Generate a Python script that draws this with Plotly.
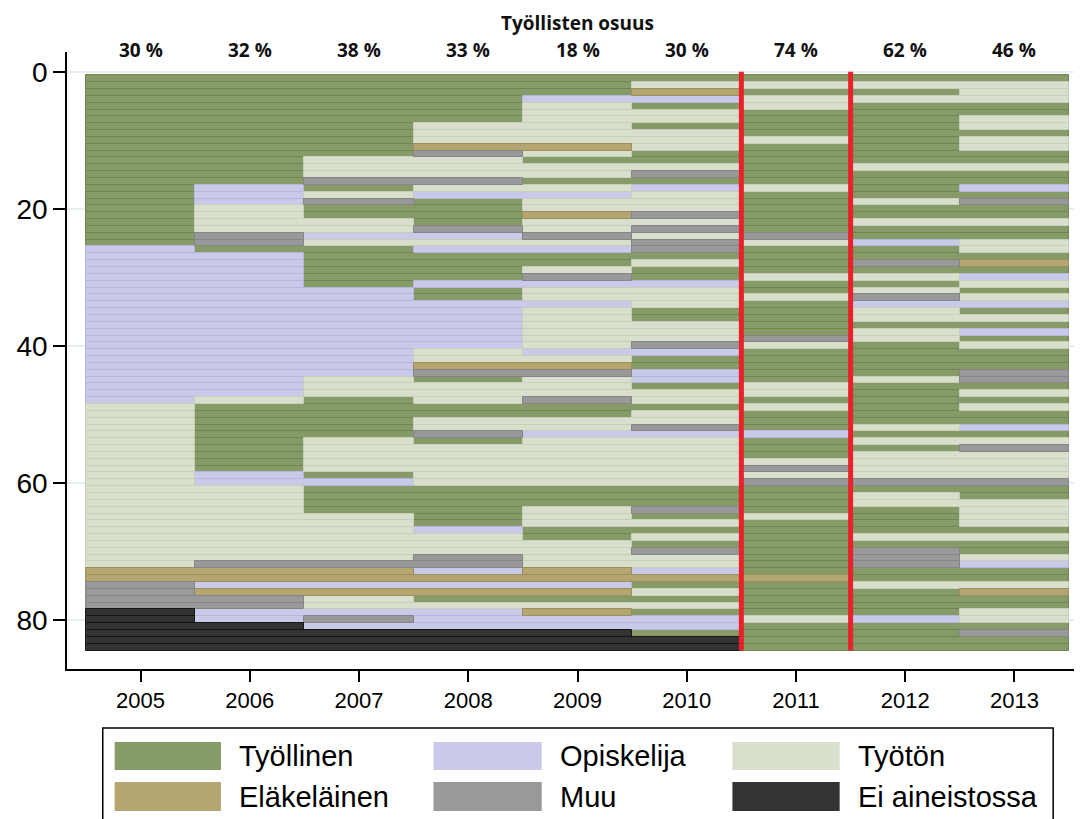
import plotly.graph_objects as go

# ---------------- data ----------------
years = [2005, 2006, 2007, 2008, 2009, 2010, 2011, 2012, 2013]
state_codes = ["T", "O", "U", "E", "M", "X"]
state_names = ["Työllinen", "Opiskelija", "Työtön", "Eläkeläinen", "Muu", "Ei aineistossa"]
share_labels = ["30 %", "32 %", "38 %", "33 %", "18 %", "30 %", "74 %", "62 %", "46 %"]
y_ticks = [0, 20, 40, 60, 80]

# one string per year, one character per person (rows top -> bottom, blocks of 12)
s2005 = "TTTTTTTTTTTT TTTTTTTTTTTT TOOOOOOOOOOO OOOOOOOOOOOO UUUUUUUUUUUU UUUUUUUUUUUU EEMMMMXXXXXX"
s2006 = "TTTTTTTTTTTT TTTTOOOUUUUM MTOOOOOOOOOO OOOOOOOOOOOU TTTTTTTTTTOO UUUUUUUUUUUM EEOEMMOOXXXX"
s2007 = "TTTTTTTTTTTT UUUMTUMTTUUO UTTTTTTOOOOO OOOOOOOOUUUT TTTTTUUUUUTO TTTTUUUUUUUM EEOEUUOMOXXX"
s2008 = "TTTTTTTUUUEM UUUMUOTTTTMO UOTTTTOTTOOO OOOOUUEMTUUU TTUUMTUUUUUU TTTTTTOUUUMM OEOETUOOOXXX"
s2009 = "TTTOUUUUUUEU TUUTUOUUEUUM UOTTUMOUUOUU UUUUOUEMUUUM TTUUOUUUUUUU TTTUUUTTUUUU EEOETUEOOXXX"
s2010 = "TUEOTUUTUUUT TUMTOUUUMUMU MMTUTTOUUUTT UUUMOTTOOTUU TUUMOUUUUUUU TTTMTUTUTMUU OETUTUTOOTXX"
s2011 = "TUTUUTTTTUTT TTTTUTTTTTTM UTTTTUTTUTTT TTMUTTTTTUUT UTTTOTTTUMUM TTTTUTTTTTTT TETTTTTUTTTT"
s2012 = "TUTUTTTTTTTT TUTTTTUTTUTT OTTMTUTUMOUU TUUTTTTTUTTT TTTUTUTUUUUM TUUTTTTUTMMM TTUTTTTOTTTT"
s2013 = "TUUUTTUUTUUT TUTTOTMTTUTT UUTETOUTUOTU TOTUTTTMMTUT UTTOTUMUUUUM TTUUUUTUTTUO TTUETTUUTMTT"

# ---------------- styling ----------------
fill = {"T": "#869b67", "O": "#c9c9e9", "U": "#d8e0cd", "E": "#b4a571",
        "M": "#999999", "X": "#333333"}
edge = {"T": "#6d8650", "O": "#b6b6dc", "U": "#c6d0b9", "E": "#9e8e5b",
        "M": "#858585", "X": "#161616"}
FONT = "Liberation Sans, Arial, sans-serif"
HEAD_FONT = "Open Sans, sans-serif"
W, H = 1082, 819
PAGE_OFF = 8                      # page body offset of the rendered figure
L, R, T, B = 52, 8, 44, 158
PW, PH = W - L - R, H - T - B


def px_x(px):
    """screen pixel x -> paper x"""
    return (px - PAGE_OFF - L) / PW


def px_y(py):
    """screen pixel y -> paper y"""
    return (H - B - (py - PAGE_OFF)) / PH


columns = [s.replace(" ", "") for s in (s2005, s2006, s2007, s2008, s2009,
                                         s2010, s2011, s2012, s2013)]
n_people = len(columns[0])

# group consecutive identical states into spells
spells = {c: {"y": [], "base": [], "len": []} for c in state_codes}
for i in range(n_people):
    j = 0
    while j < len(years):
        c = columns[j][i]
        k = j
        while k + 1 < len(years) and columns[k + 1][i] == c:
            k += 1
        spells[c]["y"].append(i + 1)
        spells[c]["base"].append(years[j] - 0.5)
        spells[c]["len"].append(k - j + 1)
        j = k + 1

fig = go.Figure()
for c, name in zip(state_codes, state_names):
    d = spells[c]
    fig.add_trace(go.Bar(
        orientation="h", y=d["y"], x=d["len"], base=d["base"], width=1,
        name=name, showlegend=False,
        marker=dict(color=fill[c], line=dict(color=edge[c], width=1)),
    ))

# red separators around 2011
for xv in (years[5] + 0.5, years[6] + 0.5):
    fig.add_shape(type="line", xref="x", yref="y", x0=xv, x1=xv, y0=0,
                  y1=n_people + 0.5, line=dict(color="#e8222a", width=5),
                  layer="above")

# header texts
fig.add_annotation(xref="x", yref="paper", x=years[4], y=px_y(23),
                   text="<b>Työllisten osuus</b>", showarrow=False,
                   font=dict(family=HEAD_FONT, size=19, color="#111"),
                   yanchor="middle")
for yr, lab in zip(years, share_labels):
    fig.add_annotation(xref="x", yref="paper", x=yr, y=px_y(50),
                       text="<b>" + lab + "</b>", showarrow=False,
                       font=dict(family=HEAD_FONT, size=19, color="#111"),
                       yanchor="middle")

# custom legend
fig.add_shape(type="rect", xref="paper", yref="paper",
              x0=px_x(96), x1=px_x(1053), y0=px_y(840), y1=px_y(728),
              line=dict(color="black", width=1.5), fillcolor="white")
sw_cols = [(108, 215), (429, 538), (730, 838)]
sw_rows = [(742, 770), (782, 811)]
for idx, (c, name) in enumerate(zip(state_codes, state_names)):
    r, col = divmod(idx, 3)
    x0, x1 = sw_cols[col]
    y0, y1 = sw_rows[r]
    fig.add_shape(type="rect", xref="paper", yref="paper",
                  x0=px_x(x0), x1=px_x(x1), y0=px_y(y1), y1=px_y(y0),
                  line=dict(width=0), fillcolor=fill[c])
    fig.add_annotation(xref="paper", yref="paper", x=px_x(x1 + 16),
                       y=px_y((y0 + y1) / 2), text=name, showarrow=False,
                       xanchor="left", yanchor="middle",
                       font=dict(family=FONT, size=29, color="black"))

fig.update_layout(
    width=W, height=H, margin=dict(l=L, r=R, t=T, b=B),
    plot_bgcolor="white", paper_bgcolor="white", barmode="overlay",
    bargap=0, font=dict(family=FONT, color="black"),
    xaxis=dict(range=[2004.327, 2013.618], tickvals=years, ticks="outside",
               ticklen=11, tickwidth=1.5, tickcolor="black", showline=True,
               linecolor="black", linewidth=1.5, showgrid=False, zeroline=False,
               tickfont=dict(size=22, family=FONT, color="black")),
    yaxis=dict(range=[87.2, -2.9], tickvals=y_ticks, ticks="outside",
               ticklen=12, tickwidth=1.5, tickcolor="black", showline=True,
               linecolor="black", linewidth=1.5, showgrid=True,
               gridcolor="#e6eff1", gridwidth=2, zeroline=False,
               tickfont=dict(size=28, family=FONT, color="black")),
)

fig.write_html("out.html")
